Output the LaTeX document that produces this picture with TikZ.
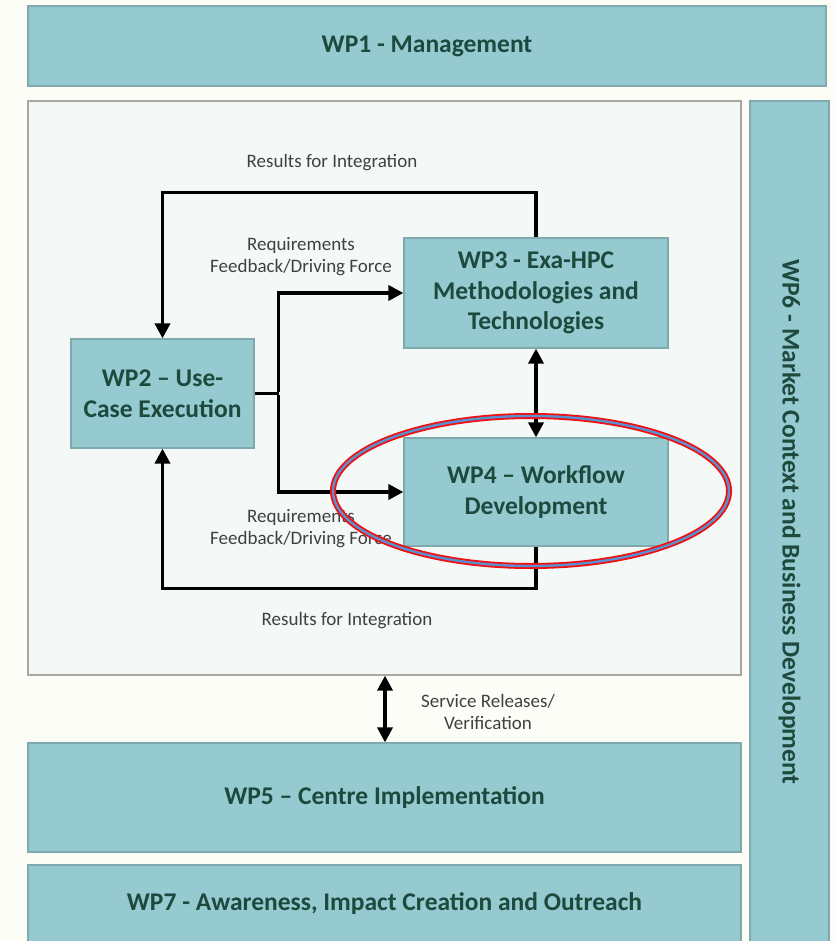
\documentclass[tikz,border=0pt]{standalone}
\usepackage{fontspec}
\setmainfont{Carlito}
\usetikzlibrary{arrows.meta,shapes.geometric}
\definecolor{boxfill}{HTML}{94CAD0}
\definecolor{boxline}{HTML}{7FA9AD}
\definecolor{innerfill}{HTML}{F4F8F6}
\definecolor{innerline}{HTML}{A8A8A0}
\definecolor{bgcol}{HTML}{FDFDF7}
\definecolor{boxtext}{HTML}{1E4A3E}
\definecolor{labtext}{HTML}{404040}
\definecolor{ellred}{HTML}{F01010}
\definecolor{ellblue}{HTML}{5B8FD0}
\begin{document}
\begin{tikzpicture}[x=1pt,y=-1pt,
  wpbox/.style={draw=boxline,line width=1.2pt,fill=boxfill,text=boxtext,
    font=\fontsize{25.5}{30.5}\selectfont\bfseries,align=center,inner sep=0pt},
  bigtext/.style={text=boxtext,font=\fontsize{25.5}{30.5}\selectfont\bfseries,inner sep=0pt},
  lab/.style={text=labtext,font=\fontsize{19}{22}\selectfont,align=center,inner sep=0pt},
  arr/.style={line width=3.6pt,-{Triangle[length=15pt,width=15pt]}},
  darr/.style={line width=3.6pt,{Triangle[length=15pt,width=15pt]}-{Triangle[length=15pt,width=15pt]}},
  plain/.style={line width=3.6pt}]
\clip (0,0) rectangle (836,941);
\fill[bgcol] (0,0) rectangle (836,941);
% big boxes
\node[wpbox,minimum width=798pt,minimum height=80pt] (wp1) at (427,46) {WP1 - Management};
\node[draw=innerline,line width=1.2pt,fill=innerfill,minimum width=713pt,minimum height=574pt,inner sep=0pt] (inner) at (384.5,388) {};
\node[wpbox,minimum width=79pt,minimum height=852pt] (wp6) at (789.5,527) {};
\node[bigtext,rotate=-90] (wp6t) at (789.5,522) {WP6 - Market Context and Business Development};
\node[wpbox,minimum width=713pt,minimum height=109pt] (wp5) at (384.5,797.5) {WP5 -- Centre Implementation};
\node[wpbox,minimum width=713pt,minimum height=90pt] (wp7) at (384.5,910) {};
\node[bigtext] (wp7t) at (384.5,904) {WP7 - Awareness, Impact Creation and Outreach};
% inner boxes
\node[wpbox,minimum width=183pt,minimum height=109pt] (wp2) at (162.5,393.5) {WP2 -- Use-\\Case Execution};
\node[wpbox,minimum width=264pt,minimum height=110pt] (wp3) at (536,293) {WP3 - Exa-HPC\\Methodologies and\\Technologies};
\node[wpbox,minimum width=264pt,minimum height=108pt] (wp4) at (536,492) {WP4 -- Workflow\\Development};
% connectors
\draw[arr] (wp3.north) -- ++(0,-45) -| (wp2.north);
\draw[arr] (wp4.south) -- ++(0,42) -| (wp2.south);
\coordinate (fork) at ([xshift=24pt]wp2.east);
\draw[plain] (wp2.east) -- (fork);
\draw[arr] ([yshift=1.8pt]fork) |- (wp3.west);
\draw[arr] ([yshift=-1.8pt]fork) |- (wp4.west);
\draw[darr] (wp3.south) -- (wp4.north);
\coordinate (sx) at (385,0);
\draw[darr] (inner.south -| sx) -- (wp5.north -| sx);
% labels
\node[lab] (l1) at (332,163) {Results for Integration};
\node[lab] (l2) at (301,257) {Requirements\\Feedback/Driving Force};
\node[lab] (l3) at (301,529) {Requirements\\Feedback/Driving Force};
\node[lab] (l4) at (347,621) {Results for Integration};
\node[lab] (l5) at (488,712) {Service Releases/\\Verification};
% highlight ellipse
\draw[ellred,line width=6pt] (531,491) ellipse [x radius=198pt,y radius=75pt];
\draw[ellblue,line width=2.4pt] (531,491) ellipse [x radius=198pt,y radius=75pt];
\end{tikzpicture}
\end{document}
